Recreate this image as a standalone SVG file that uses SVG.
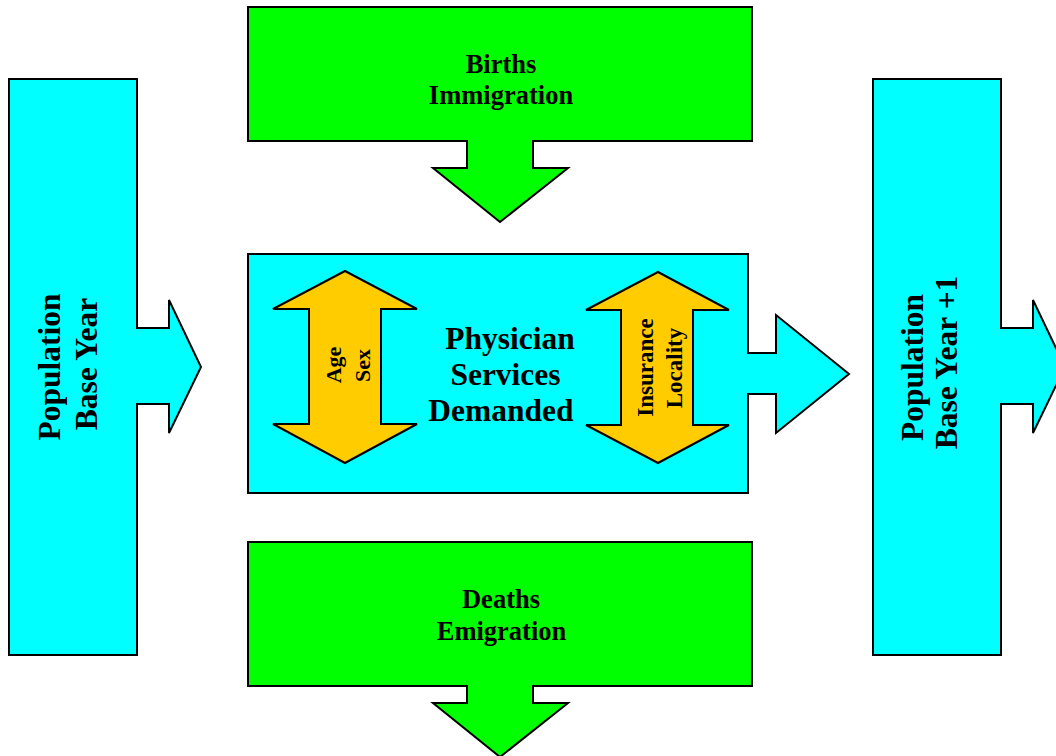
<svg xmlns="http://www.w3.org/2000/svg" width="1056" height="756" viewBox="0 0 1056 756">
<style>
.sh{stroke:#000;stroke-width:2;stroke-linejoin:miter}
.cy{fill:#00FFFF}
.gr{fill:#00FF00}
.or{fill:#FFCC00}
text{font-family:"Liberation Serif","Times New Roman",serif;font-weight:bold;fill:#000;text-anchor:middle}
.t32{font-size:31.5px}
.t26{font-size:26.5px}
.t22{font-size:22px}
.t23{font-size:23px}
</style>
<rect width="1056" height="756" fill="#fff"/>
<g id="connectors"></g>
<g id="pop-base">
<path class="sh cy" d="M9,79 H137 V328 H169 V300 L201,367 L169,433 V404 H137 V655 H9 Z"/>
<text class="t32" transform="translate(60,367) rotate(-90)">Population</text>
<text class="t32" transform="translate(97,364) rotate(-90)">Base Year</text>
</g>
<g id="births">
<path class="sh gr" d="M248,7 H752 V141 H533 V168 H568 L500,222 L433,168 H467 V141 H248 Z"/>
<text class="t26" x="501" y="73">Births</text>
<text class="t26" x="501" y="104">Immigration</text>
</g>
<g id="services">
<path class="sh cy" d="M248,254 H748 V353 H776 V315 L849,374 L776,433 V394 H748 V493 H248 Z"/>
<text class="t32" x="510" y="349">Physician</text>
<text class="t32" x="505.5" y="385">Services</text>
<text class="t32" x="501" y="421">Demanded</text>
</g>
<g id="age-sex">
<path class="sh or" d="M345,271 L417,309 H381 V424 H417 L345,463 L273,424 H309 V309 H273 Z"/>
<text class="t22" transform="translate(341,365) rotate(-90)">Age</text>
<text class="t22" transform="translate(370,365.5) rotate(-90)">Sex</text>
</g>
<g id="insurance-locality">
<path class="sh or" d="M658,272 L729,310 H693 V425 H729 L658,463 L586,425 H621 V310 H586 Z"/>
<text class="t23" transform="translate(653,367.5) rotate(-90)">Insurance</text>
<text class="t23" transform="translate(682,368) rotate(-90)">Locality</text>
</g>
<g id="deaths">
<path class="sh gr" d="M248,542 H752 V686 H533 V703 H568 L500,757 L433,703 H467 V686 H248 Z"/>
<text class="t26" x="501" y="608">Deaths</text>
<text class="t26" x="501.5" y="640">Emigration</text>
</g>
<g id="pop-next">
<path class="sh cy" d="M873,79 H1001 V328 H1033 V300 L1065,367 L1033,433 V404 H1001 V655 H873 Z"/>
<text class="t32" transform="translate(923,367.5) rotate(-90)">Population</text>
<text class="t32" transform="translate(957,362.5) rotate(-90)">Base Year +1</text>
</g>
</svg>
